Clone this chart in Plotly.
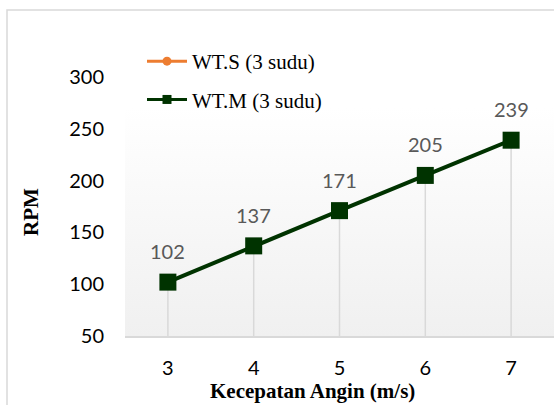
import plotly.graph_objects as go
import urllib.parse

# ---- data ----
wind_speed = ["3", "4", "5", "6", "7"]
rpm_wtm = [102, 137, 171, 205, 239]
rpm_wts = [None, None, None, None, None]
y_ticks = [50, 100, 150, 200, 250, 300]
series_names = ["WT.S (3 sudu)", "WT.M (3 sudu)"]

ORANGE = "#ED7D31"
GREEN = "#003300"
GRID = "#d9d9d9"
Y_MIN, Y_MAX = 50, 300

W, H = 554, 405
L, R, T, B = 125, 0, 77, 69
pw, ph = W - L - R, H - T - B

def px_x(x):
    return (x - L) / pw

def px_y(y):
    return (H - B - y) / ph

fig = go.Figure()

# drop lines from each point to the axis
fig.add_trace(go.Scatter(
    x=wind_speed, y=rpm_wtm, mode="markers",
    marker=dict(size=1, opacity=0),
    error_y=dict(type="data", symmetric=False,
                 array=[0] * len(rpm_wtm),
                 arrayminus=[v - Y_MIN for v in rpm_wtm],
                 color=GRID, thickness=1.5, width=0),
    showlegend=False, hoverinfo="skip"))

# WT.S (no visible data)
fig.add_trace(go.Scatter(
    x=wind_speed, y=rpm_wts, mode="lines+markers", name=series_names[0],
    line=dict(color=ORANGE, width=3), marker=dict(symbol="circle", size=9, color=ORANGE),
    legendgroup="s", connectgaps=False))

# WT.M main series
fig.add_trace(go.Scatter(
    x=wind_speed, y=rpm_wtm, mode="lines+markers", name=series_names[1],
    line=dict(color=GREEN, width=4), marker=dict(symbol="square", size=17, color=GREEN),
    showlegend=False, legendgroup="m"))
# legend entry for WT.M (small marker like reference legend)
fig.add_trace(go.Scatter(
    x=[None], y=[None], mode="lines+markers", name=series_names[1],
    line=dict(color=GREEN, width=3), marker=dict(symbol="square", size=9, color=GREEN),
    legendgroup="m"))

# data labels (category index positions)
for i, v in enumerate(rpm_wtm):
    fig.add_annotation(x=i, y=v, text=str(v), showarrow=False, yshift=31,
                       xanchor="center", yanchor="middle",
                       font=dict(family="Lato", size=20, color="#595959"))

# axis titles
fig.add_annotation(xref="paper", yref="paper", x=px_x(312), y=px_y(391),
                   xanchor="center", yanchor="middle",
                   text="<b>Kecepatan Angin (m/s)</b>", showarrow=False,
                   font=dict(family="Liberation Serif", size=21, color="black"))
fig.add_annotation(xref="paper", yref="paper", x=px_x(31), y=px_y(212),
                   xanchor="center", yanchor="middle",
                   text="<b>RPM</b>", showarrow=False, textangle=-90,
                   font=dict(family="Liberation Serif", size=21, color="black"))

# gradient plot background
svg = ('<svg xmlns="http://www.w3.org/2000/svg" width="100" height="100" preserveAspectRatio="none">'
       '<defs><linearGradient id="g" x1="0" y1="0" x2="0" y2="1">'
       '<stop offset="0" stop-color="#ffffff"/><stop offset="1" stop-color="#f0f0f0"/>'
       '</linearGradient></defs><rect width="100" height="100" fill="url(#g)"/></svg>')
src = "data:image/svg+xml;charset=utf-8," + urllib.parse.quote(svg)
top_bg = px_y(108)
fig.add_layout_image(source=src, xref="paper", yref="paper", x=0, y=top_bg,
                     sizex=1, sizey=top_bg, sizing="stretch", layer="below",
                     xanchor="left", yanchor="top")

# outer chart border
fig.add_shape(type="rect", xref="paper", yref="paper",
              x0=px_x(7), x1=px_x(W + 20), y0=px_y(H + 20), y1=px_y(10),
              line=dict(color=GRID, width=1.5), fillcolor="rgba(0,0,0,0)", layer="below")

fig.update_layout(
    width=W, height=H,
    margin=dict(l=L, r=R, t=T, b=B, autoexpand=False),
    paper_bgcolor="white", plot_bgcolor="rgba(0,0,0,0)",
    legend=dict(x=px_x(142), y=px_y(41), xanchor="left", yanchor="top",
                bgcolor="rgba(0,0,0,0)", font=dict(family="Liberation Serif", size=21, color="black"),
                traceorder="grouped", tracegroupgap=8, itemwidth=40),
    xaxis=dict(type="category", range=[-0.5, 4.5], showgrid=False,
               showline=True, linecolor=GRID, linewidth=1.5, ticks="",
               tickfont=dict(family="Lato", size=20, color="black"),
               ticklabelstandoff=13, fixedrange=True, zeroline=False),
    yaxis=dict(range=[Y_MIN, Y_MAX], tickvals=y_ticks, showgrid=False, showline=False,
               zeroline=False, ticks="", tickfont=dict(family="Lato", size=20, color="black"),
               ticklabelstandoff=20, fixedrange=True),
    showlegend=True,
)

fig.write_html("out.html", config={"displayModeBar": False},
               post_script="document.body.style.margin='0';")
